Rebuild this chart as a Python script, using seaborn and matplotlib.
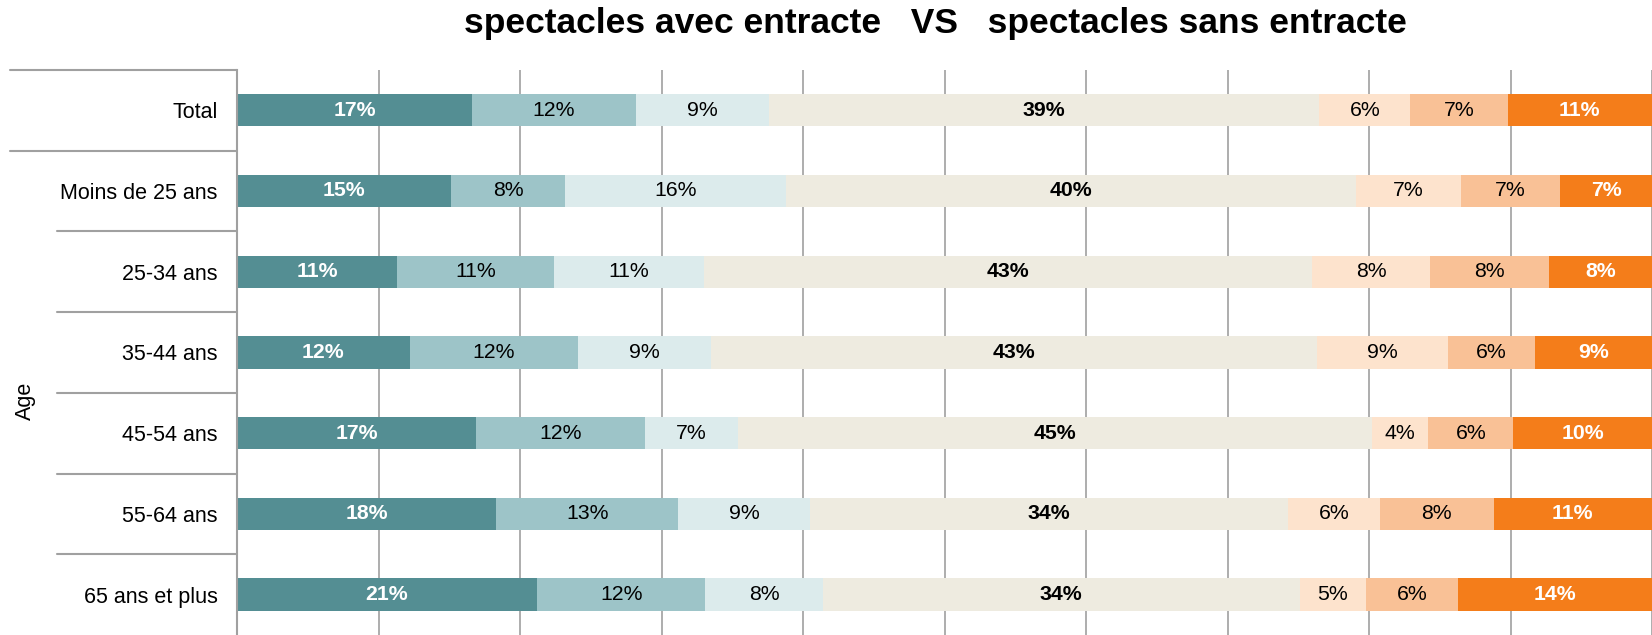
import numpy as np
import pandas as pd
import matplotlib.pyplot as plt
import seaborn as sns

# data (shares in %, one list per answer level)
categories = ['Total', 'Moins de 25 ans', '25-34 ans', '35-44 ans',
              '45-54 ans', '55-64 ans', '65 ans et plus']
s1 = [16.6, 15.1, 11.3, 12.2, 16.9, 18.3, 21.2]
s2 = [11.6, 8.1, 11.1, 11.9, 11.9, 12.9, 11.9]
s3 = [9.4, 15.6, 10.6, 9.4, 6.6, 9.3, 8.3]
s4 = [38.9, 40.3, 43.0, 42.8, 44.8, 33.8, 33.7]
s5 = [6.4, 7.4, 8.3, 9.3, 4.0, 6.5, 4.7]
s6 = [6.9, 7.0, 8.4, 6.1, 6.0, 8.0, 6.5]
s7 = [10.2, 6.5, 7.4, 8.3, 9.8, 11.2, 13.7]

lab1 = ['17%', '15%', '11%', '12%', '17%', '18%', '21%']
lab2 = ['12%', '8%', '11%', '12%', '12%', '13%', '12%']
lab3 = ['9%', '16%', '11%', '9%', '7%', '9%', '8%']
lab4 = ['39%', '40%', '43%', '43%', '45%', '34%', '34%']
lab5 = ['6%', '7%', '8%', '9%', '4%', '6%', '5%']
lab6 = ['7%', '7%', '8%', '6%', '6%', '8%', '6%']
lab7 = ['11%', '7%', '8%', '9%', '10%', '11%', '14%']

colors = ['#548e93', '#9dc4c8', '#dcebec', '#eeebe0', '#fde3cd', '#f9c196', '#f47d1a']

series = [s1, s2, s3, s4, s5, s6, s7]
labels = [lab1, lab2, lab3, lab4, lab5, lab6, lab7]

df = pd.DataFrame({'cat': categories})
for i, s in enumerate(series):
    df['s%d' % (i + 1)] = s
cum = df[['s%d' % (i + 1) for i in range(7)]].cumsum(axis=1)

sns.set_style('white')
plt.rcParams['font.family'] = ['Liberation Sans', 'DejaVu Sans']
plt.rcParams['text.color'] = 'black'
plt.rcParams['ytick.color'] = 'black'

fig = plt.figure(figsize=(16.52, 6.35), dpi=100)
ax = fig.add_axes([237 / 1652, 0.0, 1 - 237 / 1652, 0.89])

# stacked bars: draw cumulative totals from the outside in
for i in range(6, -1, -1):
    sns.barplot(x=cum.iloc[:, i], y=df['cat'], color=colors[i], orient='h',
                width=0.4, saturation=1, errorbar=None, linewidth=0, ax=ax)

# segment labels
for i in range(7):
    left = cum.iloc[:, i] - df['s%d' % (i + 1)]
    mids = left + df['s%d' % (i + 1)] / 2
    for j in range(len(categories)):
        if i in (0, 6):
            col, w = 'white', 'bold'
        elif i == 3:
            col, w = 'black', 'bold'
        else:
            col, w = 'black', 'normal'
        ax.text(mids[j], j, labels[i][j], ha='center', va='center',
                color=col, fontweight=w, fontsize=15.3)

ax.set_xlim(0, 100)
ax.set_ylim(6.5, -0.5)
ax.set_xticks(range(0, 101, 10))
ax.xaxis.grid(True, color='#a0a0a0', linewidth=1.2)
ax.set_axisbelow(True)
ax.tick_params(axis='x', length=0, labelbottom=False)
ax.tick_params(axis='y', length=0, pad=14, labelsize=15.5, labelcolor='black')
ax.set_xlabel('')
ax.set_ylabel('')
for sp in ['top', 'right', 'bottom']:
    ax.spines[sp].set_visible(False)
ax.spines['left'].set_color('#a0a0a0')
ax.spines['left'].set_linewidth(1.5)

# multi-level category separators
tr = ax.get_yaxis_transform()
for y in [-0.5, 0.5]:
    ax.plot([-0.1604, 0], [y, y], color='#a0a0a0', lw=1.5, transform=tr, clip_on=False)
for y in [1.5, 2.5, 3.5, 4.5, 5.5]:
    ax.plot([-0.127, 0], [y, y], color='#a0a0a0', lw=1.5, transform=tr, clip_on=False)

ax.text(-0.1495, 3.6, 'Age', rotation=90, ha='center', va='center',
        fontsize=15.5, color='black', transform=tr)

fig.text(935 / 1652, 1 - 23 / 635, 'spectacles avec entracte   VS   spectacles sans entracte',
         ha='center', va='center', fontsize=25.5, fontweight='bold', color='black')

fig.savefig('out.png', dpi=100)
